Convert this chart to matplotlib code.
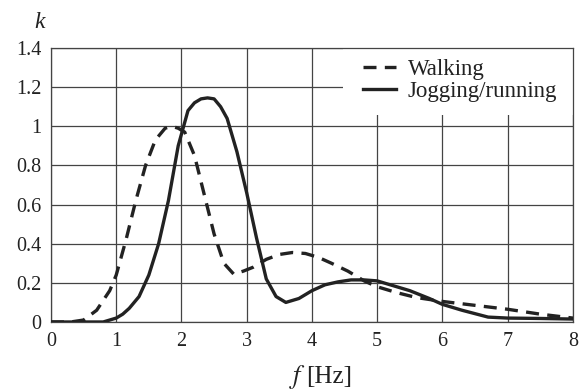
import numpy as np
import matplotlib
matplotlib.use('Agg')
from matplotlib import pyplot as plt
from matplotlib.patches import Rectangle

plt.rcParams['font.family'] = ['Liberation Serif', 'DejaVu Serif']

# walking curve (dashed)
f_walk = [0.0, 0.3, 0.5, 0.7, 0.9, 1.0, 1.15, 1.3, 1.45, 1.6, 1.75, 1.85, 1.95, 2.05,
          2.2, 2.35, 2.5, 2.65, 2.8, 2.95, 3.1, 3.3, 3.5, 3.7, 3.9, 4.1, 4.3, 4.55,
          4.8, 5.0, 5.3, 5.6, 6.0, 6.5, 7.0, 7.5, 8.0]
k_walk = [0.0, 0.0, 0.01, 0.06, 0.16, 0.24, 0.42, 0.62, 0.8, 0.93, 0.99, 1.0, 0.99, 0.97,
          0.85, 0.65, 0.45, 0.3, 0.245, 0.26, 0.28, 0.32, 0.345, 0.355, 0.35, 0.33, 0.3, 0.26,
          0.21, 0.18, 0.15, 0.125, 0.105, 0.085, 0.065, 0.04, 0.02]

# jogging/running curve (solid)
f_jog = [0.0, 0.5, 0.8, 1.0, 1.1, 1.2, 1.35, 1.5, 1.65, 1.8, 1.95, 2.1, 2.2, 2.3, 2.4,
         2.5, 2.6, 2.7, 2.85, 3.0, 3.15, 3.3, 3.45, 3.6, 3.8, 4.0, 4.2, 4.4, 4.6, 4.8,
         5.0, 5.2, 5.5, 5.8, 6.0, 6.3, 6.7, 7.0, 7.5, 8.0]
k_jog = [0.0, 0.0, 0.0, 0.02, 0.04, 0.07, 0.13, 0.24, 0.4, 0.62, 0.9, 1.08, 1.12, 1.14, 1.145,
         1.14, 1.1, 1.04, 0.87, 0.66, 0.43, 0.22, 0.13, 0.1, 0.12, 0.16, 0.19, 0.205, 0.215, 0.215,
         0.21, 0.19, 0.16, 0.12, 0.09, 0.06, 0.025, 0.02, 0.018, 0.015]

xticks = [0, 1, 2, 3, 4, 5, 6, 7, 8]
yticks = [0, 0.2, 0.4, 0.6, 0.8, 1.0, 1.2, 1.4]
ytick_labels = ['0', '0.2', '0.4', '0.6', '0.8', '1', '1.2', '1.4']

fig = plt.figure(figsize=(5.84, 3.92), dpi=100)
ax = fig.add_axes([0.0873, 0.1786, 0.8937, 0.699])

ink = '#222222'
ax.plot(f_walk, k_walk, color=ink, lw=2.4, dashes=(3.9, 2.5), label='Walking', zorder=3)
ax.plot(f_jog, k_jog, color=ink, lw=2.4, label='Jogging/running', zorder=3)

ax.set_xlim(0, 8)
ax.set_ylim(0, 1.4)
ax.set_xticks(xticks)
ax.set_yticks(yticks)
ax.set_yticklabels(ytick_labels)
ax.tick_params(length=0, labelsize=14.5, colors='#222222', pad=7)
ax.grid(True, color='#444444', lw=0.9)
ax.set_axisbelow(True)
for s in ax.spines.values():
    s.set_color('#444444')
    s.set_linewidth(0.9)

# white area behind the legend hides the grid there
ax.add_patch(Rectangle((0.559, 0.755), 0.441, 0.245, transform=ax.transAxes,
                       facecolor='white', edgecolor='none', zorder=1.5))

leg = ax.legend(loc='upper left', bbox_to_anchor=(0.5765, 1.0), frameon=False,
                fontsize=16.5, handlelength=1.45, handletextpad=0.5, labelspacing=0.03,
                borderaxespad=0.08)
for t in leg.get_texts():
    t.set_color('#222222')

fig.text(40 / 584, 1 - 22 / 392, 'k', fontsize=17, style='italic', ha='center', va='center',
         color='#222222')
fig.text(298 / 584, 1 - 377 / 392, r'$f$', fontsize=19, ha='center', va='center', color='#222222',
         math_fontfamily='stix')
fig.text(306 / 584, 1 - 377 / 392, '[Hz]', fontsize=18, ha='left', va='center', color='#222222')

fig.savefig('out.png', dpi=100)
